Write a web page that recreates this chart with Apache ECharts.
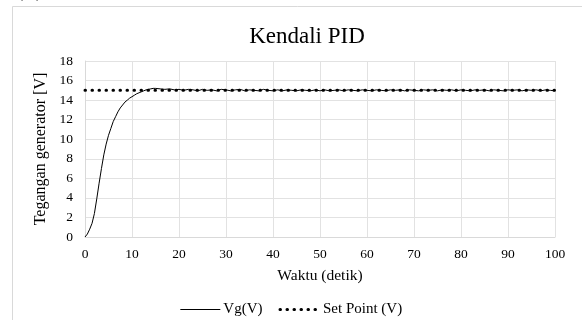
<!DOCTYPE html>
<html>
<head>
<meta charset="utf-8">
<script src="https://cdn.jsdelivr.net/npm/echarts@6/dist/echarts.min.js"></script>
<style>
html,body{margin:0;padding:0;background:#fff;}
#main{width:582px;height:320px;}
</style>
</head>
<body>
<div id="main"></div>
<script>
// Time (s)
var timeValues = [0,0.5,1,1.5,2,2.5,3,3.5,4,4.5,5,5.5,6,6.5,7,7.5,8,8.5,9,9.5,10,10.5,11,11.5,12,12.5,13,13.5,14,14.5,15,16,17,18,19,20,21,22,23,24,25,26,27,28,29,30,31,32,33,34,35,36,37,38,39,40,41,42,43,44,45,46,47,48,49,50,51,52,53,54,55,56,57,58,59,60,61,62,63,64,65,66,67,68,69,70,71,72,73,74,75,76,77,78,79,80,81,82,83,84,85,86,87,88,89,90,91,92,93,94,95,96,97,98,99,100];
// Vg(V)
var vgValues = [0,0.3,0.8,1.4,2.4,3.9,5.5,7.0,8.4,9.5,10.4,11.1,11.8,12.3,12.8,13.2,13.5,13.8,14.0,14.2,14.35,14.5,14.65,14.75,14.85,14.95,15.05,15.1,15.15,15.2,15.2,15.15,15.1,15.15,15.05,15.1,15.0,15.1,15.05,14.95,15.1,15.0,15.05,14.95,15.1,15.05,14.95,15.05,15.1,14.95,15.05,15.0,14.95,15.1,15.0,14.95,15.05,14.95,15.05,15.0,14.95,15.05,15.0,14.95,15.05,14.95,15.05,14.95,15.0,15.05,14.95,15.05,15.0,14.95,15.05,15.0,14.95,15.05,15.0,14.95,15.05,15.0,15.05,14.95,15.05,15.0,14.95,15.05,15.0,15.05,14.95,15.05,15.0,15.05,14.95,15.05,15.0,14.95,15.05,15.0,15.05,14.95,15.05,15.0,14.95,15.05,15.0,15.05,14.95,15.05,15.0,15.05,14.95,15.05,15.0,14.95];
// Set Point (V)
var setPointTimes = [0,100];
var setPointValues = [15,15];
var yTicks = [0,2,4,6,8,10,12,14,16,18];
var xTicks = [0,10,20,30,40,50,60,70,80,90,100];

var vgData = timeValues.map(function(t,i){return [t, vgValues[i]];});
var spData = setPointTimes.map(function(t,i){return [t, setPointValues[i]];});

var font = '"Liberation Serif", "Times New Roman", serif';
var chart = echarts.init(document.getElementById('main'), null, {renderer:'canvas'});
chart.setOption({
  backgroundColor:'#fff',
  animation:false,
  graphic:[
    {type:'line', shape:{x1:12.5,y1:6.5,x2:12.5,y2:320}, style:{stroke:'#d9d9d9', lineWidth:1}},
    {type:'line', shape:{x1:12.5,y1:6.5,x2:582,y2:6.5}, style:{stroke:'#d9d9d9', lineWidth:1}},
    {type:'text', x:14, y:2, style:{text:'(a).', font:'28px ' + font, fill:'#000', verticalAlign:'bottom', align:'left'}}
  ],
  title:{
    text:'Kendali PID', left:302, textAlign:'center', top:20,
    textStyle:{fontFamily:font, fontSize:23, fontWeight:'normal', color:'#000'}
  },
  legend:{
    top:297, left:'center', itemWidth:40, itemHeight:14, itemGap:16,
    textStyle:{fontFamily:font, fontSize:15, color:'#000', padding:[0,0,0,-2]},
    itemStyle:{opacity:0},
    data:[
      {name:'Vg(V)', lineStyle:{width:1}},
      {name:'Set Point (V)', lineStyle:{width:3}}
    ]
  },
  grid:{left:85, right:27, top:61, bottom:83},
  xAxis:{
    type:'value', min:0, max:100, interval:10,
    name:'Waktu (detik)', nameLocation:'middle', nameGap:31,
    nameTextStyle:{fontFamily:font, fontSize:15.5, color:'#000'},
    axisLine:{lineStyle:{color:'#d9d9d9'}},
    axisTick:{show:false},
    axisLabel:{fontFamily:font, fontSize:13.5, color:'#000', margin:10},
    splitLine:{show:true, lineStyle:{color:'#e2e2e2'}}
  },
  yAxis:{
    type:'value', min:0, max:18, interval:2,
    name:'Tegangan generator [V]', nameLocation:'middle', nameGap:35,
    nameTextStyle:{fontFamily:font, fontSize:16, color:'#000'},
    axisLine:{show:true, lineStyle:{color:'#d9d9d9'}},
    axisTick:{show:false},
    axisLabel:{fontFamily:font, fontSize:13.5, color:'#000', margin:12},
    splitLine:{show:true, lineStyle:{color:'#e2e2e2'}}
  },
  series:[
    {name:'Vg(V)', type:'line', data:vgData, showSymbol:false, symbol:'none',
     lineStyle:{color:'#000', width:1}, itemStyle:{color:'#000'}},
    {name:'Set Point (V)', type:'line', data:spData, showSymbol:false, symbol:'none',
     lineStyle:{color:'#000', width:3, type:[0.5,6.5], cap:'round'}, itemStyle:{color:'#000'}}
  ]
});
</script>
</body>
</html>
